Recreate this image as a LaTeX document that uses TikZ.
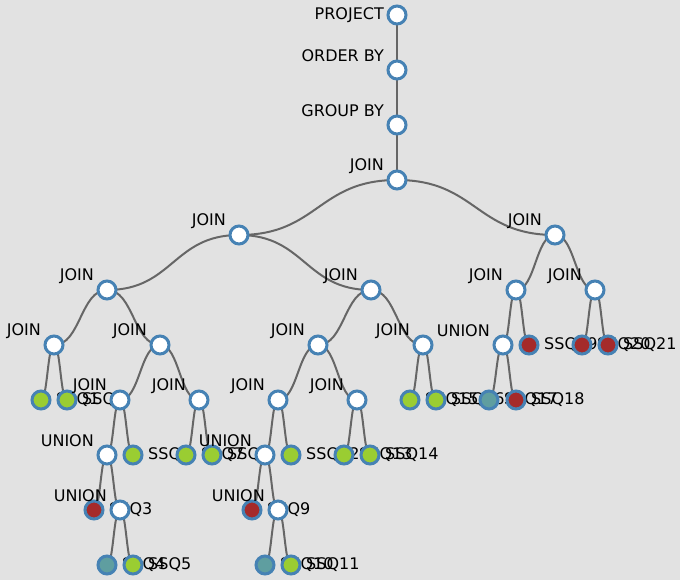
\documentclass[tikz,border=0pt]{standalone}
\usepackage{fontspec}
\setmainfont{DejaVu Sans}
\usetikzlibrary{calc,backgrounds}

\definecolor{pagebg}{HTML}{E2E2E2}
\definecolor{ringblue}{HTML}{4682B4}
\definecolor{ssqgreen}{HTML}{9ACD32}
\definecolor{ssqred}{HTML}{A52A2A}
\definecolor{ssqteal}{HTML}{5F9EA0}
\definecolor{linkgray}{HTML}{666666}

\tikzset{
  opring/.style={circle, draw=ringblue, line width=3pt, fill=white, minimum size=18pt, inner sep=0pt},
  oplabel/.style={inner sep=2.5pt},
  planop/.style={opring, label={[oplabel, yshift=14pt]left:#1}},
  ssq/.style 2 args={opring, fill=#1, label={[oplabel, inner sep=4.5pt]right:#2}},
  planlink/.style={draw=linkgray, line width=2pt}
}

% curved link, flat at both ends
\newcommand{\planlink}[2]{%
  \draw[planlink] let \p1=(#1.center), \p2=(#2.center) in
    (\p1) .. controls ({0.5*\x1+0.5*\x2},\y1) and ({0.5*\x1+0.5*\x2},\y2) .. (\p2);}

\begin{document}
\begin{tikzpicture}[x=1pt, y=-1pt, font=\fontsize{16}{19}\selectfont]
    \useasboundingbox (0,0) rectangle (680,580);

    % Top of the plan
    \node[opring, label={[oplabel]left:PROJECT}] (project) at (397,15) {};
    \node[planop=ORDER BY] (orderby) at (397,70) {};
    \node[planop=GROUP BY] (groupby) at (397,125) {};
    \node[planop=JOIN] (j1) at (397,180) {};

    % Left branch
    \node[planop=JOIN] (j2) at (239,235) {};
    \node[planop=JOIN] (j3) at (107,290) {};
    \node[planop=JOIN] (j4) at (54,345) {};
    \node[ssq={ssqgreen}{SSQ1}] (q1) at (41,400) {};
    \node[ssq={ssqgreen}{SSQ2}] (q2) at (67,400) {};
    \node[planop=JOIN] (j5) at (160,345) {};
    \node[planop=JOIN] (j6) at (120,400) {};
    \node[planop=UNION] (u1) at (107,455) {};
    \node[ssq={ssqred}{SSQ3}] (q3) at (94,510) {};
    \node[planop=UNION] (u2) at (120,510) {};
    \node[ssq={ssqteal}{SSQ4}] (q4) at (107,565) {};
    \node[ssq={ssqgreen}{SSQ5}] (q5) at (133,565) {};
    \node[ssq={ssqgreen}{SSQ6}] (q6) at (133,455) {};
    \node[planop=JOIN] (j7) at (199,400) {};
    \node[ssq={ssqgreen}{SSQ7}] (q7) at (186,455) {};
    \node[ssq={ssqgreen}{SSQ8}] (q8) at (212,455) {};

    % Middle branch
    \node[planop=JOIN] (j8) at (371,290) {};
    \node[planop=JOIN] (j9) at (318,345) {};
    \node[planop=JOIN] (j10) at (278,400) {};
    \node[planop=UNION] (u3) at (265,455) {};
    \node[ssq={ssqred}{SSQ9}] (q9) at (252,510) {};
    \node[planop=UNION] (u4) at (278,510) {};
    \node[ssq={ssqteal}{SSQ10}] (q10) at (265,565) {};
    \node[ssq={ssqgreen}{SSQ11}] (q11) at (291,565) {};
    \node[ssq={ssqgreen}{SSQ12}] (q12) at (291,455) {};
    \node[planop=JOIN] (j11) at (357,400) {};
    \node[ssq={ssqgreen}{SSQ13}] (q13) at (344,455) {};
    \node[ssq={ssqgreen}{SSQ14}] (q14) at (370,455) {};
    \node[planop=JOIN] (j12) at (423,345) {};
    \node[ssq={ssqgreen}{SSQ15}] (q15) at (410,400) {};
    \node[ssq={ssqgreen}{SSQ16}] (q16) at (436,400) {};

    % Right branch
    \node[planop=JOIN] (j13) at (555,235) {};
    \node[planop=JOIN] (j14) at (516,290) {};
    \node[planop=UNION] (u5) at (503,345) {};
    \node[ssq={ssqteal}{SSQ17}] (q17) at (489,400) {};
    \node[ssq={ssqred}{SSQ18}] (q18) at (516,400) {};
    \node[ssq={ssqred}{SSQ19}] (q19) at (529,345) {};
    \node[planop=JOIN] (j15) at (595,290) {};
    \node[ssq={ssqred}{SSQ20}] (q20) at (582,345) {};
    \node[ssq={ssqred}{SSQ21}] (q21) at (608,345) {};

    % Links behind the circles
    \begin{scope}[on background layer]
        \fill[pagebg] (0,0) rectangle (680,580);
        \foreach \a/\b in {project/orderby, orderby/groupby, groupby/j1,
            j1/j2, j1/j13, j2/j3, j2/j8, j3/j4, j3/j5, j4/q1, j4/q2,
            j5/j6, j5/j7, j6/u1, j6/q6, u1/q3, u1/u2, u2/q4, u2/q5,
            j7/q7, j7/q8, j8/j9, j8/j12, j9/j10, j9/j11, j10/u3, j10/q12,
            u3/q9, u3/u4, u4/q10, u4/q11, j11/q13, j11/q14, j12/q15, j12/q16,
            j13/j14, j13/j15, j14/u5, j14/q19, u5/q17, u5/q18, j15/q20, j15/q21}
            \planlink{\a}{\b};
    \end{scope}
\end{tikzpicture}
\end{document}
